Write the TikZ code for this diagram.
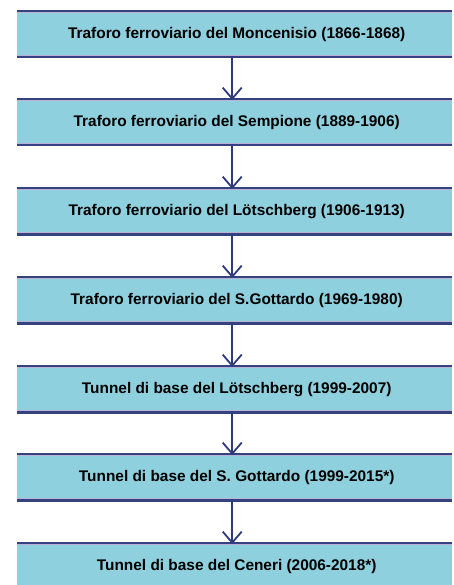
\documentclass[tikz,border=0pt]{standalone}
\usepackage{fontspec}
\setmainfont{Liberation Sans}
\usetikzlibrary{arrows.meta}
\definecolor{boxfill}{HTML}{8ED0DE}
\definecolor{boxline}{HTML}{34427F}
\definecolor{boxhalo}{HTML}{B9B3D6}
\definecolor{arrowcol}{HTML}{2E3A7C}
\begin{document}
\begin{tikzpicture}[x=1pt,y=-1pt,
  stage/.style={fill=boxfill, draw=none, minimum width=435pt, minimum height=46pt,
    inner sep=0pt, anchor=north west,
    font=\fontsize{15.4}{18}\selectfont\bfseries},
  edgeline/.style={draw=boxline, line width=2.2pt},
  halo/.style={draw=boxhalo, line width=1pt},
  flow/.style={draw=arrowcol, line width=1.8pt, -{Straight Barb[length=11pt,width=19pt,line width=1.8pt]}}
]
\useasboundingbox (0,0) rectangle (454,585);
\clip (0,0) rectangle (454,585);
\fill[white] (0,0) rectangle (454,585);
\foreach \i/\t/\txt in {
  1/11/{Traforo ferroviario del Moncenisio (1866-1868)},
  2/99/{Traforo ferroviario del Sempione (1889-1906)},
  3/188/{Traforo ferroviario del Lötschberg (1906-1913)},
  4/277/{Traforo ferroviario del S.Gottardo (1969-1980)},
  5/366/{Tunnel di base del Lötschberg (1999-2007)},
  6/454/{Tunnel di base del S. Gottardo (1999-2015*)},
  7/543/{Tunnel di base del Ceneri (2006-2018*)}}{
  \node[stage] (b\i) at (17,\t) {\hspace*{4pt}\txt};
  \draw[halo] ([yshift=-1.6pt]b\i.north west) -- ([yshift=-1.6pt]b\i.north east);
  \draw[halo] ([yshift=1.6pt]b\i.south west) -- ([yshift=1.6pt]b\i.south east);
  \draw[edgeline] (b\i.north west) -- (b\i.north east);
  \draw[edgeline] (b\i.south west) -- (b\i.south east);
}
\foreach \a/\b in {1/2,2/3,3/4,4/5,5/6,6/7}{
  \draw[flow] ([xshift=-2.5pt,yshift=1pt]b\a.south) -- ([xshift=-2.5pt,yshift=-1pt]b\b.north);
}
\end{tikzpicture}
\end{document}
